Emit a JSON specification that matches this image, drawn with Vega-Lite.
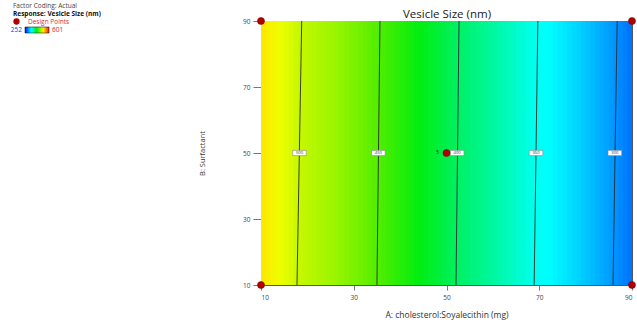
{
  "$schema": "https://vega.github.io/schema/vega-lite/v6.json",
  "width": 371,
  "height": 264,
  "autosize": {"type": "none"},
  "padding": {"left": 261, "top": 21, "right": 5, "bottom": 42},
  "background": "white",
  "title": {"text": "Factor Coding: Actual", "subtitle": "Response: Vesicle Size (nm)", "anchor": "start", "frame": "group", "dx": -248, "dy": 9, "offset": 0, "font": "Open Sans", "fontSize": 6.5, "fontWeight": "normal", "color": "#444", "subtitleFont": "Open Sans", "subtitleFontSize": 6.5, "subtitleFontWeight": "bold", "subtitleColor": "#111", "subtitlePadding": 1},
  "config": {
    "view": {"stroke": "#555", "strokeWidth": 1},
    "axis": {"labelFont": "Open Sans", "titleFont": "Open Sans", "grid": false, "labelColor": "#444", "titleColor": "#333", "tickColor": "#777", "domainColor": "#555"}
  },
  "datasets": {
    "surface": [
      {"a":10,"b":11,"v":522.8},{"a":11,"b":12,"v":519.9},{"a":12,"b":13,"v":517.0},{"a":13,"b":14,"v":514.0},{"a":14,"b":15,"v":511.1},
      {"a":15,"b":16,"v":508.2},{"a":16,"b":17,"v":505.2},{"a":17,"b":18,"v":502.3},{"a":18,"b":19,"v":499.3},{"a":19,"b":20,"v":496.4},
      {"a":20,"b":21,"v":493.5},{"a":21,"b":22,"v":490.5},{"a":22,"b":23,"v":487.6},{"a":23,"b":24,"v":484.7},{"a":24,"b":25,"v":481.7},
      {"a":25,"b":26,"v":478.8},{"a":26,"b":27,"v":475.8},{"a":27,"b":28,"v":472.9},{"a":28,"b":29,"v":470.0},{"a":29,"b":30,"v":467.0},
      {"a":30,"b":31,"v":464.1},{"a":31,"b":32,"v":461.2},{"a":32,"b":33,"v":458.2},{"a":33,"b":34,"v":455.3},{"a":34,"b":35,"v":452.3},
      {"a":35,"b":36,"v":449.4},{"a":36,"b":37,"v":446.5},{"a":37,"b":38,"v":443.5},{"a":38,"b":39,"v":440.6},{"a":39,"b":40,"v":437.7},
      {"a":40,"b":41,"v":434.7},{"a":41,"b":42,"v":431.8},{"a":42,"b":43,"v":428.8},{"a":43,"b":44,"v":425.9},{"a":44,"b":45,"v":423.0},
      {"a":45,"b":46,"v":420.0},{"a":46,"b":47,"v":417.1},{"a":47,"b":48,"v":414.2},{"a":48,"b":49,"v":411.2},{"a":49,"b":50,"v":408.3},
      {"a":50,"b":51,"v":405.3},{"a":51,"b":52,"v":402.4},{"a":52,"b":53,"v":399.5},{"a":53,"b":54,"v":396.5},{"a":54,"b":55,"v":393.6},
      {"a":55,"b":56,"v":390.7},{"a":56,"b":57,"v":387.7},{"a":57,"b":58,"v":384.8},{"a":58,"b":59,"v":381.8},{"a":59,"b":60,"v":378.9},
      {"a":60,"b":61,"v":376.0},{"a":61,"b":62,"v":373.0},{"a":62,"b":63,"v":370.1},{"a":63,"b":64,"v":367.2},{"a":64,"b":65,"v":364.2},
      {"a":65,"b":66,"v":361.3},{"a":66,"b":67,"v":358.3},{"a":67,"b":68,"v":355.4},{"a":68,"b":69,"v":352.5},{"a":69,"b":70,"v":349.5},
      {"a":70,"b":71,"v":346.6},{"a":71,"b":72,"v":343.7},{"a":72,"b":73,"v":340.7},{"a":73,"b":74,"v":337.8},{"a":74,"b":75,"v":334.8},
      {"a":75,"b":76,"v":331.9},{"a":76,"b":77,"v":329.0},{"a":77,"b":78,"v":326.0},{"a":78,"b":79,"v":323.1},{"a":79,"b":80,"v":320.2},
      {"a":80,"b":81,"v":317.2},{"a":81,"b":82,"v":314.3},{"a":82,"b":83,"v":311.3},{"a":83,"b":84,"v":308.4},{"a":84,"b":85,"v":305.5},
      {"a":85,"b":86,"v":302.5},{"a":86,"b":87,"v":299.6},{"a":87,"b":88,"v":296.7},{"a":88,"b":89,"v":293.7},{"a":89,"b":90,"v":290.8}
    ],
    "contours": [
      {"level":"500","xb":17.76,"xt":18.78,"xm":18.3},
      {"level":"450","xb":35.0,"xt":35.66,"xm":35.3},
      {"level":"400","xb":52.05,"xt":52.7,"xm":52.3},
      {"level":"350","xb":68.9,"xt":69.7,"xm":69.3},
      {"level":"300","xb":85.9,"xt":86.8,"xm":86.3}
    ],
    "points": [
      {"A":10,"B":10,"n":1},{"A":10,"B":90,"n":1},{"A":90,"B":10,"n":1},{"A":90,"B":90,"n":1},{"A":50,"B":50,"n":5}
    ]
  },
  "layer": [
    {
      "data": {"name": "surface"},
      "mark": {"type": "rect", "x2Offset": 1.2, "clip": true},
      "encoding": {
        "x": {"field": "a", "type": "quantitative", "scale": {"domain": [10, 90], "nice": false, "zero": false},
              "axis": {"orient": "bottom", "values": [10, 30, 50, 70, 90], "tickSize": 5, "labelPadding": 4, "labelFontSize": 6.5, "title": "A: cholesterol:Soyalecithin (mg)", "titleFontSize": 8.5, "titleFontWeight": "normal", "titlePadding": 10}},
        "x2": {"field": "b"},
        "y": {"datum": 10, "type": "quantitative", "scale": {"domain": [10, 90], "nice": false, "zero": false},
              "axis": {"orient": "left", "values": [10, 30, 50, 70, 90], "tickSize": 8, "labelPadding": 3, "labelFontSize": 6.5, "title": "B: Surfactant", "titleFontSize": 7.5, "titleFontWeight": "normal", "titlePadding": 36}},
        "y2": {"datum": 90},
        "color": {"field": "v", "type": "quantitative",
                  "scale": {"domain": [252, 289, 304, 325, 342, 351, 377, 401, 424, 451, 477, 501, 512, 524, 601],
                            "range": ["#1010ff", "#0070ff", "#00a0ff", "#00d8ff", "#00ffff", "#00ffee", "#00f8a0", "#00f060", "#00ee10", "#55ee00", "#99f500", "#c8f800", "#eeff00", "#ffe600", "#ff1010"],
                            "interpolate": "rgb"},
                  "legend": {"orient": "none", "legendX": -236, "legendY": 6, "direction": "horizontal", "gradientLength": 24, "gradientThickness": 6, "title": null, "values": [252, 601], "gradientStrokeColor": "#000", "gradientStrokeWidth": 0.5, "labelFontSize": 6.5, "labelFont": "Open Sans", "padding": 0,
                             "encode": {"labels": {"update": {"x": {"signal": "datum.perc > 0.5 ? 27 : -3"}, "y": {"value": 3}, "align": {"signal": "datum.perc > 0.5 ? 'left' : 'right'"}, "baseline": {"value": "middle"}, "fill": {"signal": "datum.perc > 0.5 ? '#e02020' : '#2a2aff'"}}}}}}
      }
    },
    {
      "data": {"name": "contours"},
      "mark": {"type": "rule", "color": "#2b2b2b", "strokeWidth": 0.9},
      "encoding": {
        "x": {"field": "xb", "type": "quantitative", "axis": null},
        "x2": {"field": "xt"},
        "y": {"datum": 10, "type": "quantitative", "axis": null},
        "y2": {"datum": 90}
      }
    },
    {
      "data": {"name": "contours"},
      "mark": {"type": "point", "shape": "M-1.3,-0.5H1.3V0.5H-1.3Z", "size": 110, "filled": true, "fill": "white", "stroke": "#888", "strokeWidth": 0.6, "opacity": 1},
      "encoding": {
        "x": {"field": "xm", "type": "quantitative", "axis": null},
        "y": {"datum": 50, "type": "quantitative", "axis": null}
      }
    },
    {
      "data": {"name": "contours"},
      "mark": {"type": "text", "fontSize": 4.2, "font": "Open Sans", "color": "#333", "baseline": "middle", "align": "center"},
      "encoding": {
        "x": {"field": "xm", "type": "quantitative", "axis": null},
        "y": {"datum": 50, "type": "quantitative", "axis": null},
        "text": {"field": "level"}
      }
    },
    {
      "data": {"name": "points"},
      "mark": {"type": "point", "filled": true, "fill": "#b00000", "stroke": "#7a0000", "strokeWidth": 0.5, "size": 50, "opacity": 1},
      "encoding": {
        "x": {"field": "A", "type": "quantitative",
              "axis": {"orient": "top", "labels": false, "ticks": false, "domain": false, "title": "Vesicle Size (nm)", "titleFontSize": 11.5, "titleFontWeight": "normal", "titleColor": "#222", "titlePadding": 2}},
        "y": {"field": "B", "type": "quantitative", "axis": null},
        "shape": {"datum": "Design Points", "type": "nominal", "scale": {"range": ["circle"]},
                  "legend": {"orient": "none", "legendX": -248, "legendY": -3, "title": null, "symbolFillColor": "#b00000", "symbolStrokeColor": "#7a0000", "symbolStrokeWidth": 0.5, "symbolSize": 40, "labelColor": "#e03030", "labelFontSize": 6.5, "labelFont": "Open Sans", "labelOffset": 8, "padding": 0}}
      }
    },
    {
      "data": {"name": "points"},
      "transform": [{"filter": "datum.n > 1"}],
      "mark": {"type": "text", "fontSize": 4.5, "font": "Open Sans", "color": "#222", "dx": -9, "baseline": "middle", "align": "center"},
      "encoding": {
        "x": {"field": "A", "type": "quantitative", "axis": null},
        "y": {"field": "B", "type": "quantitative", "axis": null},
        "text": {"field": "n"}
      }
    }
  ],
  "resolve": {"axis": {"x": "independent", "y": "independent"}}
}
